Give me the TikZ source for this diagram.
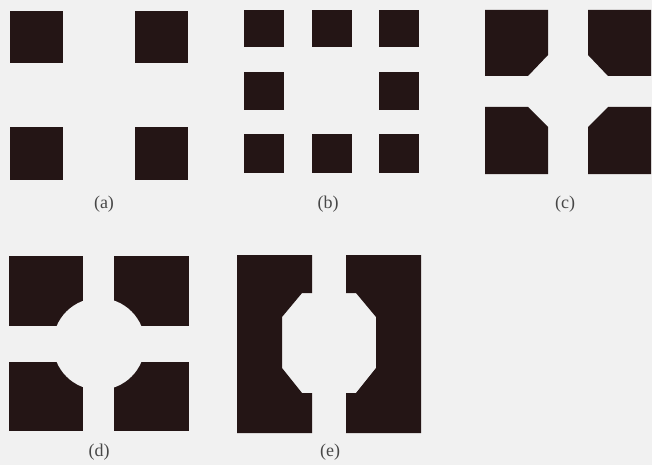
\documentclass[tikz,border=0pt]{standalone}
\usepackage{fontspec}
\setmainfont{Liberation Serif}
\usepackage{tikz}
\usepackage{xcolor}
\definecolor{padfill}{RGB}{36,21,21}
\definecolor{paper}{RGB}{241,241,241}

\begin{document}
\begin{tikzpicture}[x=1pt,y=-1pt,
		pad/.style={fill=padfill},
		caption/.style={text=black!72,font=\fontsize{18}{20}\selectfont}]
		% Background fixes the page size (652 x 465)
		\fill[paper] (0,0) rectangle (652,465);

		% (a) four square pads
		\fill[pad] (10,11) rectangle (63,63);
		\fill[pad] (135,11) rectangle (188,63);
		\fill[pad] (10,127) rectangle (63,180);
		\fill[pad] (135,127) rectangle (188,180);
		\node[caption] (capa) at (104,204) {(a)};

		% (b) eight small pads, centre left empty
		\fill[pad] (244,10) rectangle (284,47);
		\fill[pad] (312,10) rectangle (352,47);
		\fill[pad] (379,10) rectangle (419,47);
		\fill[pad] (244,72) rectangle (284,110);
		\fill[pad] (379,72) rectangle (419,110);
		\fill[pad] (244,134) rectangle (284,173);
		\fill[pad] (312,134) rectangle (352,173);
		\fill[pad] (379,134) rectangle (419,173);
		\node[caption] (capb) at (328,204) {(b)};

		% (c) pads with chamfered inner corners
		\fill[pad] (485,10) -- (548,10) -- (548,55) -- (528,76) -- (485,76) -- cycle;
		\fill[pad] (588,10) -- (651,10) -- (651,76) -- (608,76) -- (588,55) -- cycle;
		\fill[pad] (485,107) -- (528,107) -- (548,127) -- (548,174) -- (485,174) -- cycle;
		\fill[pad] (608,107) -- (651,107) -- (651,174) -- (588,174) -- (588,127) -- cycle;
		\node[caption] (capc) at (565,204) {(c)};

		% (d) pads with a round cut-out in the middle
		\fill[pad] (9,256) rectangle (83,326);
		\fill[pad] (114,256) rectangle (189,326);
		\fill[pad] (9,362) rectangle (83,431);
		\fill[pad] (114,362) rectangle (189,431);
		\fill[paper] (99,344) circle (46);
		\node[caption] (capd) at (99,452) {(d)};

		% (e) two tall pads with an octagonal opening
		\fill[pad] (237,255) -- (312,255) -- (312,293) -- (302,293) -- (282,317) -- (282,368)
			-- (302,393) -- (312,393) -- (312,433) -- (237,433) -- cycle;
		\fill[pad] (346,255) -- (421,255) -- (421,433) -- (346,433) -- (346,393) -- (356,393)
			-- (376,368) -- (376,317) -- (356,293) -- (346,293) -- cycle;
		\node[caption] (cape) at (330,452) {(e)};
	\end{tikzpicture}
\end{document}
